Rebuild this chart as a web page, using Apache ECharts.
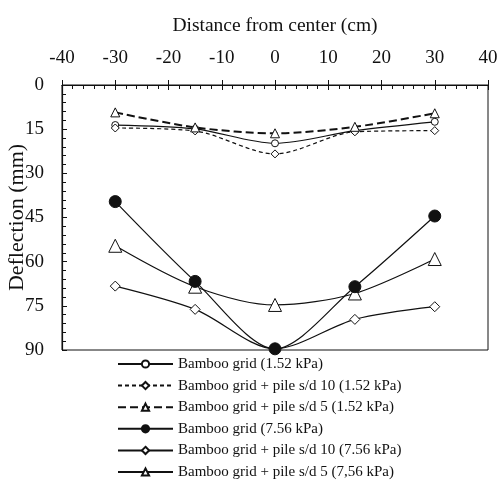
<!DOCTYPE html>
<html>
<head>
<meta charset="utf-8">
<script src="https://cdn.jsdelivr.net/npm/echarts@6/dist/echarts.min.js"></script>
<style>
  html, body { margin: 0; padding: 0; background: #fff; }
  #chart { width: 497px; height: 484px; }
</style>
</head>
<body>
<div id="chart"></div>
<script>
// 距离中心 (cm)
const distance = [-30, -15, 0, 15, 30]
// 各系列挠度 (mm)
const grid152 = [13.6, 14.9, 19.8, 15.5, 12.5]
const pile10_152 = [14.6, 15.6, 23.4, 15.9, 15.5]
const pile5_152 = [9.3, 14.4, 16.4, 14.2, 9.6]
const grid756 = [39.6, 66.7, 89.6, 68.5, 44.5]
const pile10_756 = [68.3, 76.2, 89.6, 79.6, 75.3]
const pile5_756 = [54.6, 68.5, 74.7, 70.8, 59.1]

const seriesNames = [
  'Bamboo grid (1.52 kPa)',
  'Bamboo grid + pile s/d 10 (1.52 kPa)',
  'Bamboo grid + pile s/d 5 (1.52 kPa)',
  'Bamboo grid (7.56 kPa)',
  'Bamboo grid + pile s/d 10 (7.56 kPa)',
  'Bamboo grid + pile s/d 5 (7,56 kPa)'
]

const font = 'Liberation Serif'
const ink = '#111'

const toPairs = arr => distance.map((x, i) => [x, arr[i]])

function makeSeries(name, values, symbol, size, filled, lineType, width, z) {
  return {
    name: name,
    type: 'line',
    xAxisIndex: 0,
    yAxisIndex: 0,
    z: z || 2,
    data: toPairs(values),
    smooth: 0.3,
    symbol: symbol,
    symbolSize: size,
    showAllSymbol: true,
    itemStyle: {
      color: filled ? ink : '#fff',
      borderColor: ink,
      borderWidth: 1
    },
    lineStyle: { color: ink, width: width, type: lineType },
    emphasis: { disabled: true }
  }
}

const myChart = echarts.init(document.getElementById('chart'))
const option = {
  animation: false,
  backgroundColor: '#fff',
  textStyle: { fontFamily: font, color: ink },
  grid: {
    left: 62, right: 9, top: 85, bottom: 134,
    outerBoundsMode: 'none',
    containLabel: false,
    show: true, borderColor: ink, borderWidth: 1, backgroundColor: 'transparent'
  },
  legend: {
    orient: 'vertical',
    left: 117,
    top: 356,
    padding: 0,
    height: 128,
    itemWidth: 55,
    itemHeight: 9,
    itemGap: 5.6,
    textStyle: { fontFamily: font, fontSize: 15, lineHeight: 16, color: ink },
    data: seriesNames
  },
  xAxis: [
    {
      type: 'value',
      position: 'top',
      min: -40, max: 40, interval: 10,
      name: 'Distance from center (cm)',
      nameLocation: 'middle',
      nameGap: 49,
      nameMoveOverlap: false,
      nameTextStyle: { fontFamily: font, fontSize: 19.5, color: ink },
      axisLine: { show: true, onZero: false, lineStyle: { color: ink, width: 1.2 } },
      axisTick: { show: true, inside: false, length: 5, lineStyle: { color: ink } },
      axisLabel: { fontFamily: font, fontSize: 19, color: ink, margin: 17 },
      splitLine: { show: false }
    },
    {
      type: 'value',
      position: 'top',
      min: -40, max: 40, interval: 10,
      axisLine: { show: false },
      axisTick: { show: true, inside: true, length: 5, lineStyle: { color: ink } },
      minorTick: { show: true, splitNumber: 5, length: 4, lineStyle: { color: ink } },
      axisLabel: { show: false },
      splitLine: { show: false }
    }
  ],
  yAxis: [
    {
      type: 'value',
      inverse: true,
      min: 0, max: 90, interval: 15,
      name: 'Deflection (mm)',
      nameLocation: 'middle',
      nameGap: 34,
      nameMoveOverlap: false,
      nameRotate: 90,
      nameTextStyle: { fontFamily: font, fontSize: 22, color: ink },
      axisLine: { show: true, onZero: false, lineStyle: { color: ink, width: 1.2 } },
      axisTick: { show: true, inside: true, length: 5, lineStyle: { color: ink } },
      minorTick: { show: true, splitNumber: 5, length: 4, lineStyle: { color: ink } },
      axisLabel: { fontFamily: font, fontSize: 19, color: ink, margin: 18 },
      splitLine: { show: false }
    }
  ],
  series: [
    makeSeries(seriesNames[0], grid152, 'circle', 7, false, 'solid', 1.2),
    makeSeries(seriesNames[1], pile10_152, 'diamond', 8, false, [4, 3], 1.2),
    makeSeries(seriesNames[2], pile5_152, 'triangle', 9, false, [8, 4], 2),
    makeSeries(seriesNames[3], grid756, 'circle', 12, true, 'solid', 1.2, 5),
    makeSeries(seriesNames[4], pile10_756, 'diamond', 10, false, 'solid', 1.2),
    makeSeries(seriesNames[5], pile5_756, 'triangle', 13, false, 'solid', 1.2)
  ]
}
myChart.setOption(option)
</script>
</body>
</html>
